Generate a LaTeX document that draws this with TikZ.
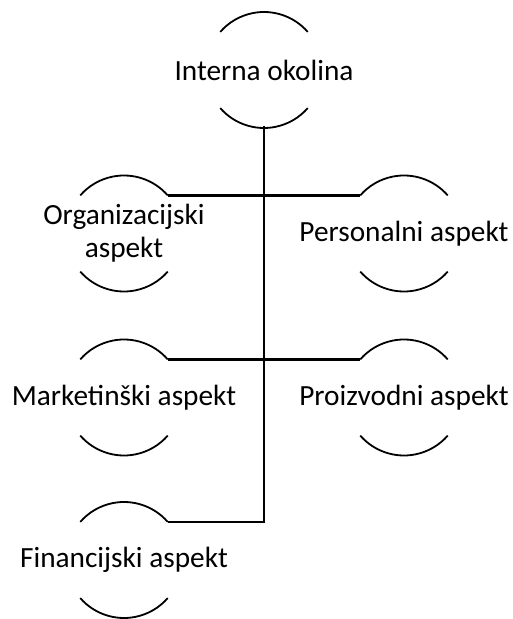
\documentclass[tikz,border=0pt]{standalone}
\usepackage{fontspec}
\setmainfont{Carlito}
\begin{document}
\begin{tikzpicture}[x=1pt,y=1pt,
  lbl/.style={inner sep=0pt, outer sep=0pt, align=center, font=\fontsize{29.3}{33}\selectfont},
  arcline/.style={line width=1.8pt},
  conn/.style={line width=2.2pt}]
\useasboundingbox (0,0) rectangle (512,619);
\node[lbl] (top) at (264,549) {Interna okolina};
\node[lbl] (org) at (124,385.5) {Organizacijski\\aspekt};
\node[lbl] (pers) at (404,385.5) {Personalni aspekt};
\node[lbl] (mkt) at (124,221.5) {Marketinški aspekt};
\node[lbl] (proiz) at (404,221.5) {Proizvodni aspekt};
\node[lbl] (fin) at (124,59) {Financijski aspekt};
% arcs
\foreach \n in {top,org,pers,mkt,proiz,fin}{
  \draw[arcline] ([shift={(41:58)}]\n.center) arc[start angle=41, end angle=139, radius=58];
  \draw[arcline] ([shift={(-139:58)}]\n.center) arc[start angle=-139, end angle=-41, radius=58];
}
% connector end points
\coordinate (topB) at ([shift={(270:56)}]top.center);
\coordinate (orgR) at ([shift={(41:58)}]org.center);
\coordinate (persL) at ([shift={(139:58)}]pers.center);
\coordinate (mktR) at ([shift={(41:58)}]mkt.center);
\coordinate (proizL) at ([shift={(139:58)}]proiz.center);
\coordinate (finR) at ([shift={(41:58)}]fin.center);
\draw[conn] (topB) -- (topB |- finR) -- (finR);
\draw[conn] (orgR) -- (persL);
\draw[conn] (mktR) -- (proizL);
\end{tikzpicture}
\end{document}
